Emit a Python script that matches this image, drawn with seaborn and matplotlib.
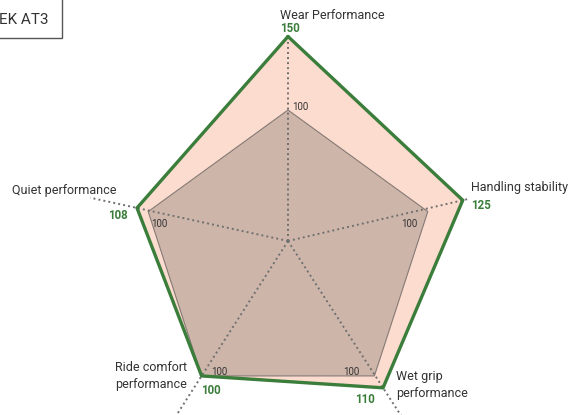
import numpy as np
import seaborn as sns
import matplotlib.pyplot as plt
from matplotlib.patches import Rectangle

# ── data ─────────────────────────────────────────────
categories = ["Wear Performance", "Handling stability", "Wet grip\nperformance",
              "Ride comfort\nperformance", "Quiet performance"]
values = [150, 125, 110, 100, 108]
baseline = [100, 100, 100, 100, 100]
title = "EK AT3"

# ── style ────────────────────────────────────────────
sns.set_theme(style="white")
plt.rcParams["font.family"] = ["Roboto", "DejaVu Sans"]

GREEN = "#3b7d3b"
PEACH = "#fddcd0"
INNER = "#cdb5aa"
TXT = "#333333"

angles = np.deg2rad(90 - 72 * np.arange(len(categories)))


def to_xy(vals):
    v = np.asarray(vals, dtype=float)
    return v * np.cos(angles), v * np.sin(angles)


fig = plt.figure(figsize=(5.74, 4.15), dpi=100)
ax = fig.add_axes([0, 0, 1, 1])
K, cx, cy = 1.47, 288, 257          # px per unit, centre in px
ax.set_xlim(-cx / K, (574 - cx) / K)
ax.set_ylim(-(415 - cy) / K, cy / K)
ax.axis("off")

ox, oy = to_xy(values)
bx, by = to_xy(baseline)

ax.fill(ox, oy, color=PEACH, lw=0, zorder=1)
ax.fill(bx, by, facecolor=INNER, edgecolor="#857a75", lw=0.8, zorder=2)

# dotted spokes (they meet a bit above the polygon centre)
hub = np.array([0.0, 16 / K])
spoke_ext = [1.0, 1.04, 2.0, 2.0, 1.31]
for x, y, e in zip(ox, oy, spoke_ext):
    end = hub + e * (np.array([x, y]) - hub)
    ax.plot([hub[0], end[0]], [hub[1], end[1]], color="#707070",
            ls=(0, (1, 1.6)), lw=1.4, zorder=3)

# green outline
sns.lineplot(x=np.append(ox, ox[0]), y=np.append(oy, oy[0]), sort=False,
             estimator=None, color=GREEN, lw=2.4, ax=ax, zorder=4,
             solid_joinstyle="miter")

# ── labels ───────────────────────────────────────────
name_off = [(44, 21, "center"), (8, 13, "left"), (13, 3, "left"),
            (-14, 0, "right"), (-21, 17, "right")]
val_off = [(2, 8, "center"), (8, -5, "left"), (-18, -12, "center"),
           (9, -15, "center"), (-9, -8, "right")]
base_off = [(4, 3, "left"), (-10, -12, "right"), (-15, 4, "right"),
            (10, 4, "left"), (3, -12, "left")]

for i, name in enumerate(categories):
    dx, dy, ha = name_off[i]
    ax.annotate(name, (ox[i], oy[i]), xytext=(dx, dy), textcoords="offset pixels",
                ha=ha, va="center", fontsize=9, color=TXT,
                multialignment="left", linespacing=1.35)
    dx, dy, ha = val_off[i]
    ax.annotate(str(values[i]), (ox[i], oy[i]), xytext=(dx, dy),
                textcoords="offset pixels", ha=ha, va="center",
                fontsize=8.3, fontweight="bold", color=GREEN)
    dx, dy, ha = base_off[i]
    ax.annotate(str(baseline[i]), (bx[i], by[i]), xytext=(dx, dy),
                textcoords="offset pixels", ha=ha, va="center",
                fontsize=7, color=TXT)

# title box, cut at the top-left corner
fig.add_artist(Rectangle((-5 / 574, 1 - 38 / 415), 67 / 574, 48 / 415,
                         transform=fig.transFigure, facecolor="white",
                         edgecolor="#555555", lw=1, clip_on=False))
fig.text(-1 / 574, 1 - 20 / 415, title, ha="left", va="center",
         fontsize=11, color=TXT)

fig.savefig("out.png", dpi=100)
